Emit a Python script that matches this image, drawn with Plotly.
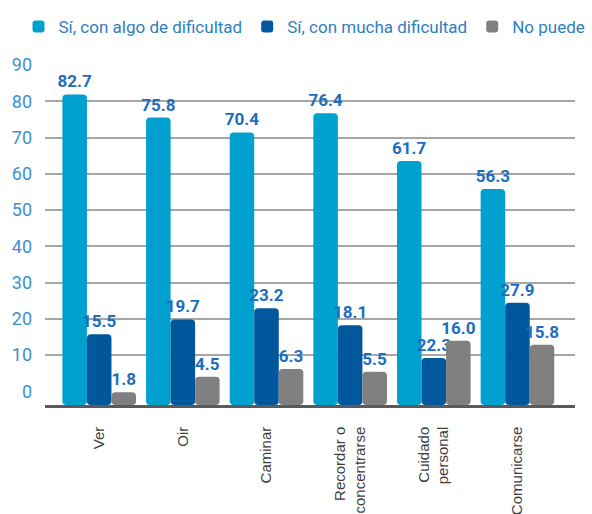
import plotly.graph_objects as go

# ---- data ----
categories = ["Ver", "Oir", "Caminar", "Recordar o concentrarse", "Cuidado personal", "Comunicarse"]
category_ticktext = ["Ver", "Oir", "Caminar", "Recordar o<br>concentrarse", "Cuidado<br>personal", "Comunicarse"]

series_names = ["Sí, con algo de dificultad", "Sí, con mucha dificultad", "No puede"]

# bar heights as drawn in the picture
algo_dificultad = [81.9, 75.5, 71.4, 76.7, 63.5, 55.8]
mucha_dificultad = [15.7, 19.8, 22.9, 18.2, 9.2, 24.4]
no_puede = [-0.3, 4.0, 6.1, 5.4, 13.9, 12.8]

# value labels as printed in the picture
algo_labels = ["82.7", "75.8", "70.4", "76.4", "61.7", "56.3"]
mucha_labels = ["15.5", "19.7", "23.2", "18.1", "22.3", "27.9"]
no_puede_labels = ["1.8", "4.5", "6.3", "5.5", "16.0", "15.8"]

y_tick_values = [0, 10, 20, 30, 40, 50, 60, 70, 80, 90]
grid_values = [10, 20, 30, 40, 50, 60, 70, 80, 90]

# ---- styling ----
AXIS_BOTTOM = -3.8
Y_TOP = 90.01
colors = ["#00a0cf", "#00579c", "#808080"]
label_color = "#1b6ebf"

fig = go.Figure()
for name, vals, labels, col in zip(
    series_names,
    [algo_dificultad, mucha_dificultad, no_puede],
    [algo_labels, mucha_labels, no_puede_labels],
    colors,
):
    fig.add_trace(go.Bar(
        name=name,
        x=categories,
        y=[v - AXIS_BOTTOM for v in vals],
        base=AXIS_BOTTOM,
        marker=dict(color=col, line=dict(width=0)),
        text=labels,
        textposition="outside",
        textfont=dict(family="Roboto", size=17, color=label_color, weight="bold"),
        constraintext="none",
        cliponaxis=False,
        hovertemplate="%{x}: %{text}<extra>" + name + "</extra>",
    ))

# invisible helper trace so the tick-label axis (y2) is rendered
fig.add_trace(go.Scatter(
    x=[categories[0]], y=[y_tick_values[0]], yaxis="y2",
    mode="markers", marker=dict(opacity=0),
    showlegend=False, hoverinfo="skip",
))

fig.update_layout(
    width=592,
    height=514,
    margin=dict(l=45, r=17, t=65, b=109, autoexpand=False),
    plot_bgcolor="white",
    paper_bgcolor="white",
    barmode="group",
    bargap=0.12,
    bargroupgap=0,
    barcornerradius=4,
    showlegend=True,
    legend=dict(
        orientation="h",
        xref="paper", yref="paper",
        x=-0.05, y=1.165,
        xanchor="left", yanchor="top",
        font=dict(family="Roboto", size=17, color="#2e7fc3"),
        itemwidth=30,
        traceorder="normal",
        bgcolor="rgba(0,0,0,0)",
    ),
    xaxis=dict(
        type="category",
        categoryorder="array",
        categoryarray=categories,
        range=[-0.648, 5.688],
        tickvals=categories,
        ticktext=category_ticktext,
        tickangle=-90,
        tickfont=dict(family="Liberation Sans", size=15, color="#3f3f3f"),
        ticks="",
        ticklabelstandoff=13,
        showline=True,
        linecolor="#5a5a5a",
        linewidth=2.5,
        showgrid=False,
        zeroline=False,
    ),
    yaxis=dict(
        range=[AXIS_BOTTOM, Y_TOP],
        tickvals=grid_values,
        showticklabels=False,
        showgrid=True,
        gridcolor="#a6a6a6",
        gridwidth=1.5,
        zeroline=False,
        showline=False,
        ticks="",
    ),
    yaxis2=dict(
        overlaying="y",
        side="left",
        anchor="x",
        range=[AXIS_BOTTOM, Y_TOP],
        tickvals=y_tick_values,
        tickfont=dict(family="Roboto", size=18, color="#3d8fd3"),
        showgrid=False,
        zeroline=False,
        showline=False,
        ticks="",
        ticklabelstandoff=12,
    ),
)

fig.write_html(
    "out.html",
    config={"displayModeBar": False},
    post_script="document.body.style.margin='0';",
)
